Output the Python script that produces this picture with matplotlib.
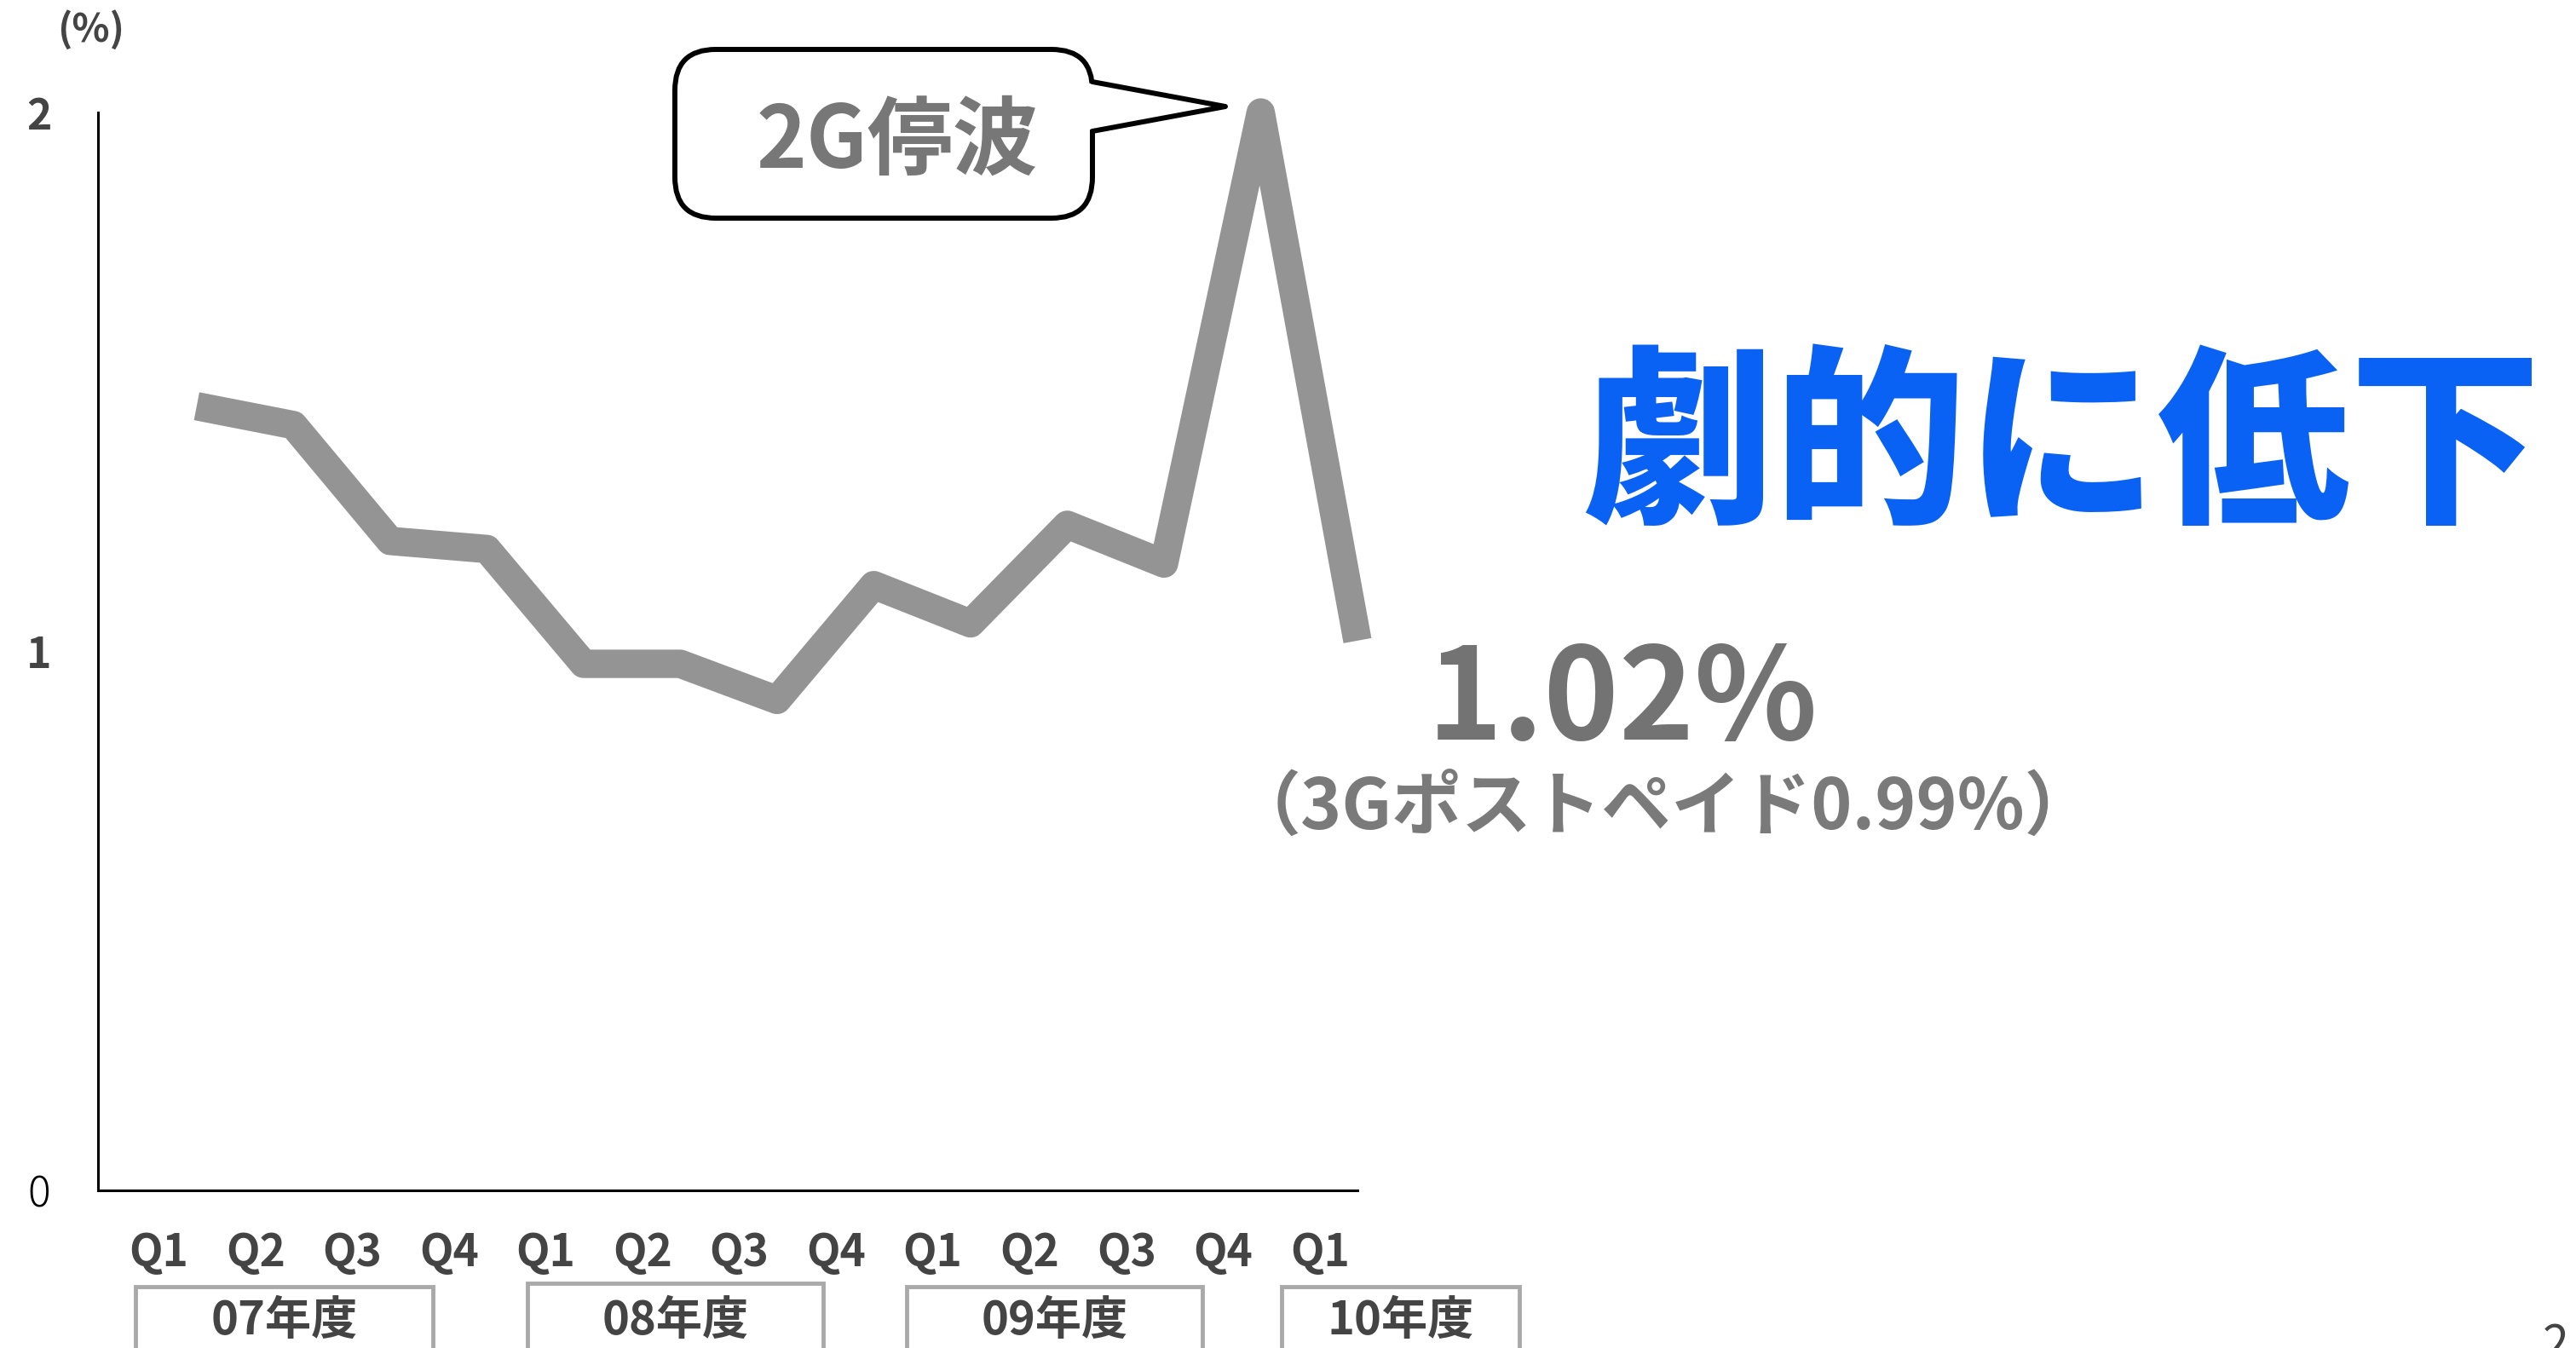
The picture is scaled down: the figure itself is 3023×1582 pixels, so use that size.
import numpy as np
import matplotlib
matplotlib.use('Agg')
import matplotlib.pyplot as plt
from matplotlib.patches import FancyBboxPatch, Rectangle, Polygon
from matplotlib.lines import Line2D
from matplotlib.transforms import IdentityTransform

plt.rcParams['font.family'] = ['Noto Sans CJK JP', 'DejaVu Sans']

# data (churn rate, %)
quarters = ['Q1', 'Q2', 'Q3', 'Q4', 'Q1', 'Q2', 'Q3', 'Q4', 'Q1', 'Q2', 'Q3', 'Q4', 'Q1']
churn = [1.455, 1.42, 1.205, 1.19, 0.977, 0.977, 0.91, 1.123, 1.052, 1.235, 1.163, 2.0, 1.02]
fiscal_years = ['07年度', '08年度', '09年度', '10年度']
y_ticks = [0, 1, 2]

W, H = 3023, 1582
fig = plt.figure(figsize=(W / 100, H / 100), dpi=100)


def fx(px):
    return px / W


def fy(py):
    return 1 - py / H


# main axes
ax = fig.add_axes([fx(115), fy(1397), fx(1593) - fx(115), fy(132) - fy(1397)])
x = np.arange(len(churn))
ax.plot(x, churn, color='#949494', lw=24, solid_joinstyle='round',
        solid_capstyle='butt', clip_on=False, zorder=3)
ax.set_xlim(-1.02, len(churn) - 1)
ax.set_ylim(0, 2)
for s in ['top', 'right']:
    ax.spines[s].set_visible(False)
for s in ['left', 'bottom']:
    ax.spines[s].set_linewidth(2.2)
    ax.spines[s].set_color('black')

ax.set_xticks(x - 0.39)
ax.set_xticklabels(quarters, fontsize=37, color='#444444', fontweight='bold')
ax.tick_params(axis='x', length=0, pad=34)

ax.set_yticks(y_ticks)
ax.set_yticklabels([str(v) for v in y_ticks], fontsize=36, color='#444444',
                   fontweight='bold')
ax.tick_params(axis='y', length=0, pad=50)
for lab in ax.get_yticklabels():
    lab.set_horizontalalignment('center')
ax.get_yticklabels()[0].set_fontweight('light')
ax.get_yticklabels()[0].set_color('black')

fig.text(fx(107), fy(35), '(%)', fontsize=33, color='#444444',
         fontweight='bold', ha='center', va='center')

# fiscal year boxes
box_x = [(159, 508), (619, 966), (1064, 1411), (1504, 1783)]
box_top = [1510, 1506, 1510, 1510]
for (x0, x1), top, label in zip(box_x, box_top, fiscal_years):
    rect = Rectangle((x0, H - 1620), x1 - x0, 1620 - top, transform=IdentityTransform(),
                     fc='white', ec='#a9a9a9', lw=3.5)
    fig.add_artist(rect)
    fig.text(fx((x0 + x1) / 2), fy(1566), label, fontsize=39, color='#444444',
             fontweight='bold', ha='center', va='baseline')

# speech bubble
bubble = FancyBboxPatch((792, H - 256), 490, 198, boxstyle='round,pad=0,rounding_size=48',
                        transform=IdentityTransform(), fc='white', ec='black', lw=4.3,
                        zorder=5)
fig.add_artist(bubble)
tail = Polygon([(1268, H - 96), (1438, H - 125), (1268, H - 154)], closed=True,
               transform=IdentityTransform(), fc='white', ec='none', zorder=6)
fig.add_artist(tail)
tail_edge = Line2D([1282, 1438, 1282], [H - 96, H - 125, H - 154], color='black', lw=4.3,
                   solid_joinstyle='round', solid_capstyle='round',
                   transform=IdentityTransform(), zorder=7)
fig.add_artist(tail_edge)
fig.text(fx(1053), fy(197), '2G停波', fontsize=72, color='#777777', fontweight='bold',
         ha='center', va='baseline', zorder=8)

# annotations
fig.text(fx(2420), fy(530), '劇的に低下', fontsize=162, color='#0a62f5',
         fontweight='black', ha='center', va='center')
fig.text(fx(1904), fy(868), '1.02%', fontsize=108, color='#737373',
         fontweight='bold', ha='center', va='baseline')
fig.text(fx(1951), fy(973), '（3Gポストペイド0.99%）', fontsize=59, color='#7a7a7a',
         fontweight='bold', ha='center', va='baseline')

# page number, cut off at the corner
fig.text(fx(2984), fy(1595), '2', fontsize=40, color='#444444', va='baseline')

fig.savefig('out.png', dpi=100)
